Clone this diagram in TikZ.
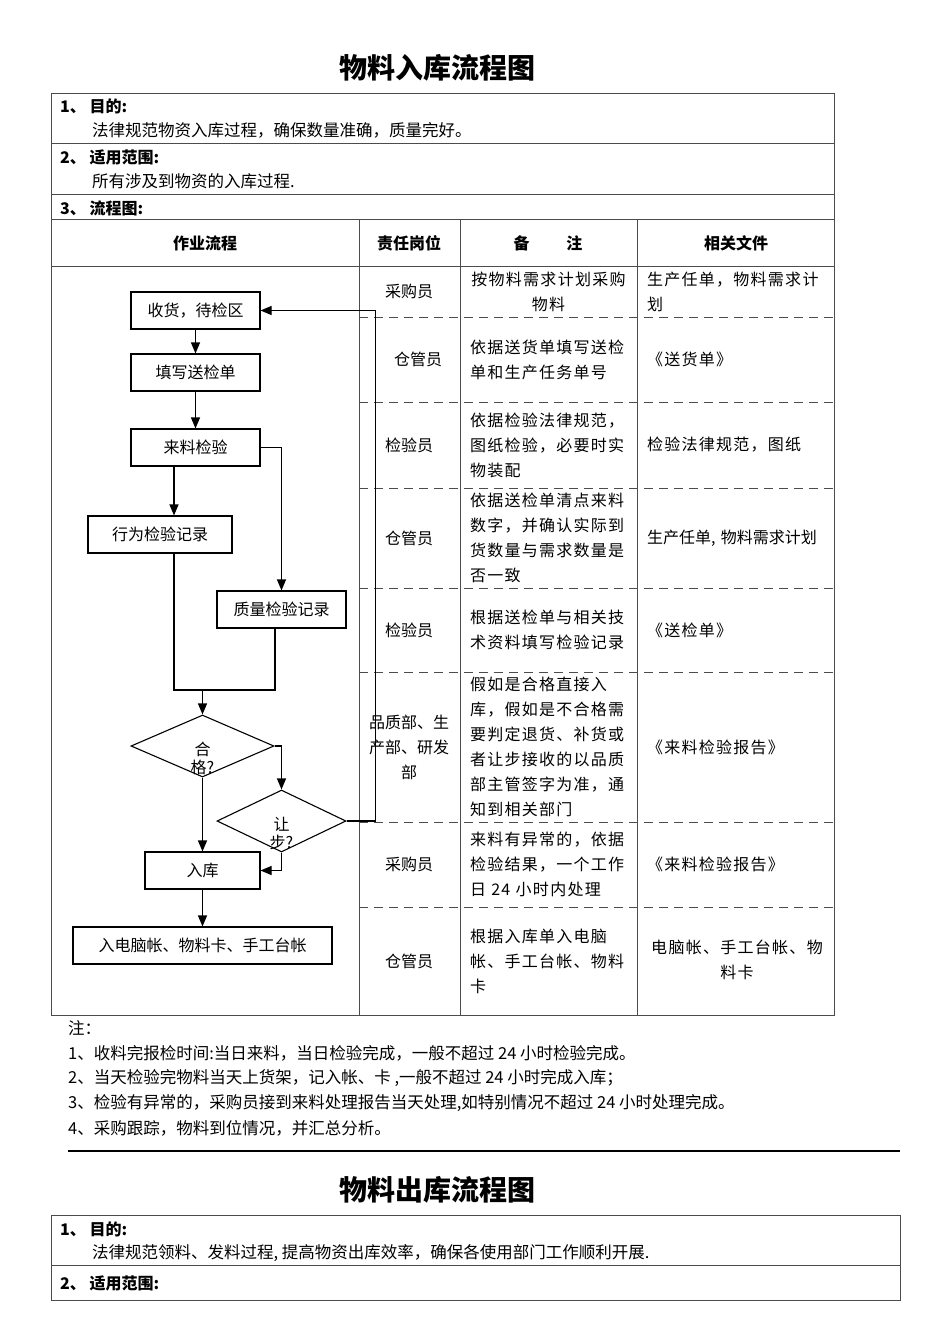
\documentclass[tikz,border=0pt]{standalone}
\usepackage{fontspec}
\setmainfont{Noto Sans CJK SC}
\newfontfamily\spacedcjk[LetterSpace=8]{Noto Sans CJK SC}
\usetikzlibrary{positioning,shapes.geometric,arrows.meta,calc}
\newcommand\bodysize{\fontsize{16}{25}\selectfont}
\newcommand\parasize{\fontsize{16.5}{25}\selectfont}
\newcommand\asklabel[1]{\raisebox{-27pt}[0pt][0pt]{\shortstack{#1}}}
\tikzset{
  ttl/.style={font=\fontsize{28}{32}\selectfont\bfseries, inner sep=0pt},
  head/.style={font=\bodysize\bfseries, anchor=west, inner sep=0pt},
  para/.style={font=\parasize, anchor=west, inner sep=0pt},
  colhead/.style={font=\bodysize\bfseries, inner sep=0pt},
  post/.style={font=\bodysize, align=center, inner sep=0pt},
  memo/.style={font=\spacedcjk\bodysize, align=left, text width=157pt, inner sep=0pt},
  doc/.style={font=\spacedcjk\bodysize, align=left, text width=180pt, inner sep=0pt},
  stepbox/.style={draw, line width=1.1pt, minimum height=37pt, inner sep=0pt, font=\bodysize},
  check/.style={draw, diamond, aspect=2.3, line width=1.1pt, inner sep=0pt, font=\bodysize, minimum width=143pt, minimum height=62pt},
  rule/.style={draw=black!70, line width=1pt},
  sep/.style={rule, dash pattern=on 9pt off 6pt},
  flow/.style={-{Triangle[length=11pt,width=9pt]}, line width=1.1pt},
  link/.style={line width=1.1pt}
}
\begin{document}
\begin{tikzpicture}[x=1pt, y=-1pt]
  \useasboundingbox (0,0) rectangle (950,1344);
  \node[ttl] (title) at (437,68) {物料入库流程图};
  \draw[rule] (51,93) rectangle (834,1015);
  \foreach \y in {143,194,219,266} \draw[rule] (51,\y) -- (834,\y);
  \foreach \x in {359,460,637} \draw[rule] (\x,219) -- (\x,1015);
  \foreach \y in {317,402,488,588,672,822,907} \draw[sep] (359,\y) -- (834,\y);
  \node[head] (aim) at (60,106) {1、 目的:};
  \node[para] (aimtxt) at (92,130) {法律规范物资入库过程，确保数量准确，质量完好。};
  \node[head] (range) at (60,157) {2、 适用范围:};
  \node[para] (rangetxt) at (92,181) {所有涉及到物资的入库过程.};
  \node[head] (chart) at (60,208) {3、 流程图:};
  \node[colhead] (hflow) at (205,243) {作业流程};
  \node[colhead] (hpost) at (409,243) {责任岗位};
  \node[colhead] (hnote) at (548,243) {备\hspace{37pt}注};
  \node[colhead] (hdoc) at (736,243) {相关文件};
  \node[stepbox, minimum width=129pt] (recv) at (195.5,310.5) {收货，待检区};
  \node[stepbox, minimum width=129pt] (fill) at (195.5,372.5) {填写送检单\hspace{24pt}};
  \node[stepbox, minimum width=129pt] (insp) at (195.5,447.5) {来料检验};
  \node[stepbox, minimum width=144pt] (rec1) at (160,534.5) {行为检验记录};
  \node[stepbox, minimum width=129pt] (rec2) at (281.5,609.5) {质量检验记录};
  \node[check] (pass) at (202.5,746) {\asklabel{合\\格?}};
  \node[check, minimum width=129pt] (yield) at (281.5,821) {\asklabel{让\\步?}};
  \node[stepbox, minimum width=115pt] (store) at (202.5,870.5) {入库};
  \node[stepbox, minimum width=259pt] (ledger) at (202.5,945.5) {入电脑帐、物料卡、手工台帐\hspace{18pt}};
  \coordinate (lane1) at (174,690);
  \coordinate (lane2) at (275,690);
  \draw[flow] (recv) -- (fill);
  \draw[flow] (fill) -- (insp);
  \draw[flow] (insp.south -| lane1) -- (rec1.north -| lane1);
  \draw[flow] (insp.east) -| (rec2.north);
  \draw[link] (rec1.south -| lane1) -- (lane1) -- (lane2) -- (rec2.south -| lane2);
  \draw[flow] (lane1 -| pass) -- (pass.north);
  \draw[flow] (pass.east) -| (yield.north);
  \draw[flow] (pass.south) -- (store.north);
  \draw[flow] (yield.south) |- (store.east);
  \draw[flow] (yield.east) -- ++(29,0) |- (recv.east);
  \draw[flow] (store) -- (ledger);
  \node[post] (p1) at (409,291.5) {采购员};
  \node[post] (p2) at (418,359.5) {仓管员};
  \node[post] (p3) at (409,445) {检验员};
  \node[post] (p4) at (409,538) {仓管员};
  \node[post] (p5) at (409,630) {检验员};
  \node[post] (p6) at (409,747) {品质部、生\\产部、研发\\部};
  \node[post] (p7) at (409,864.5) {采购员};
  \node[post] (p8) at (409,961) {仓管员};
  \node[memo, align=center] (m1) at (548.5,291.5) {按物料需求计划采购\\物料};
  \node[memo] (m2) at (548.5,359.5) {依据送货单填写送检\\单和生产任务单号};
  \node[memo] (m3) at (548.5,445) {依据检验法律规范，\\图纸检验，必要时实\\物装配};
  \node[memo] (m4) at (548.5,538) {依据送检单清点来料\\数字，并确认实际到\\货数量与需求数量是\\否一致};
  \node[memo] (m5) at (548.5,630) {根据送检单与相关技\\术资料填写检验记录};
  \node[memo] (m6) at (548.5,747) {假如是合格直接入\\库，假如是不合格需\\要判定退货、补货或\\者让步接收的以品质\\部主管签字为准，通\\知到相关部门};
  \node[memo] (m7) at (548.5,864.5) {来料有异常的，依据\\检验结果，一个工作\\日 24 小时内处理};
  \node[memo] (m8) at (548.5,961) {根据入库单入电脑\\帐、手工台帐、物料\\卡};
  \node[doc] (d1) at (737,291.5) {生产任单，物料需求计\\划};
  \node[doc] (d2) at (737,359.5) {《送货单》};
  \node[doc] (d3) at (737,445) {检验法律规范，图纸};
  \node[doc, font=\bodysize] (d4) at (737,538) {生产任单, 物料需求计划};
  \node[doc] (d5) at (737,630) {《送检单》};
  \node[doc] (d6) at (737,747) {《来料检验报告》};
  \node[doc] (d7) at (737,864.5) {《来料检验报告》};
  \node[doc, align=center] (d8) at (737,960) {电脑帐、手工台帐、物\\料卡};
  \node[para] (notehd) at (68,1028) {注：};
  \node[para] (n1) at (68,1053) {1、收料完报检时间:当日来料，当日检验完成，一般不超过 24 小时检验完成。};
  \node[para] (n2) at (68,1078) {2、当天检验完物料当天上货架，记入帐、卡 ,一般不超过 24 小时完成入库；};
  \node[para] (n3) at (68,1103) {3、检验有异常的，采购员接到来料处理报告当天处理,如特别情况不超过 24 小时处理完成。};
  \node[para] (n4) at (68,1128) {4、采购跟踪，物料到位情况，并汇总分析。};
  \draw[line width=2.5pt] (68,1151) -- (900,1151);
  \node[ttl] (title2) at (437,1190) {物料出库流程图};
  \draw[rule] (51,1215) rectangle (900,1300);
  \draw[rule] (51,1265) -- (900,1265);
  \node[head] (aim2) at (60,1229) {1、 目的:};
  \node[para] (aim2txt) at (92,1253) {法律规范领料、发料过程, 提高物资出库效率，确保各使用部门工作顺利开展.};
  \node[head] (range2) at (60,1283) {2、 适用范围:};
\end{tikzpicture}
\end{document}
